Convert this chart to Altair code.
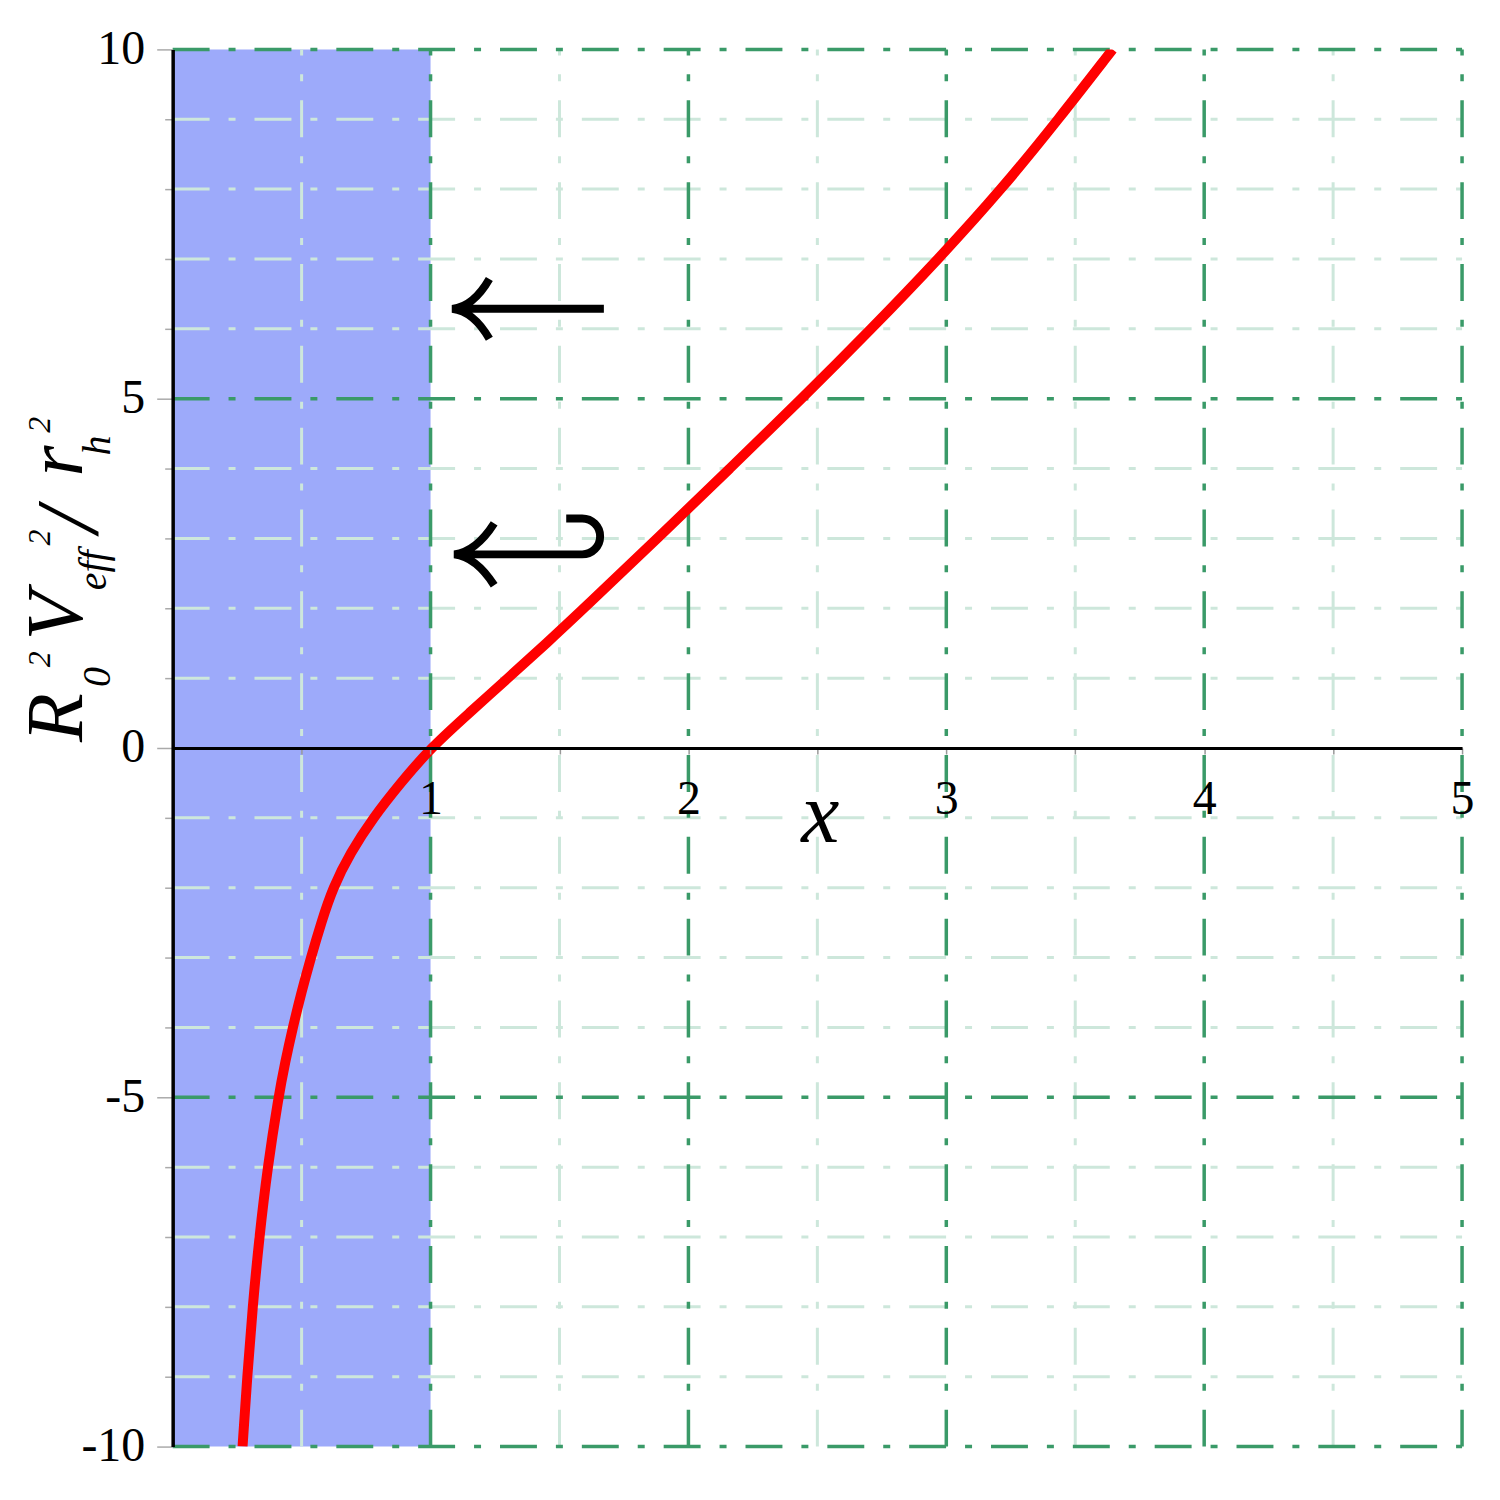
import altair as alt
import pandas as pd

# ---------------- data ----------------
curve_x = [0.271, 0.289, 0.310, 0.336, 0.368, 0.410, 0.436, 0.466, 0.499, 0.536,
           0.576, 0.621, 0.689, 0.777, 0.884, 1.000, 1.150, 1.300, 1.450, 1.595,
           1.880, 2.160, 2.440, 2.710, 2.970, 3.215, 3.435, 3.645]
curve_y = [-10, -9, -8, -7, -6, -5, -4.5, -4, -3.5, -3,
           -2.5, -2, -1.5, -1, -0.5, 0, 0.5, 1, 1.5, 2,
           3, 4, 5, 6, 7, 8, 9, 10]

x_domain = [0, 5]
y_domain = [-10, 10]
region_x = [0, 1]

x_ticks = [0, 0.5, 1, 1.5, 2, 2.5, 3, 3.5, 4, 4.5, 5]
y_ticks = list(range(-10, 11))
x_major = [1, 2, 3, 4, 5]
x_minor = [0.5, 1.5, 2.5, 3.5, 4.5]
y_major = [-10, -5, 5, 10]
y_minor = [-9, -8, -7, -6, -4, -3, -2, -1, 1, 2, 3, 4, 6, 7, 8, 9]

arrow_x = [1.378, 1.382]
arrow_y = [6.286, 2.829]

# ---------------- styles ----------------
SERIF = "Liberation Serif, Times New Roman, serif"
MAJOR = "#3a9a68"
MINOR = "#cde7db"
BLUE = "#9daafa"
DASH = [37, 19, 7, 19]

xs = alt.Scale(domain=x_domain, nice=False, zero=False)
ys = alt.Scale(domain=y_domain, nice=False, zero=False)

x_axis = alt.Axis(
    values=x_ticks, grid=False, title=None, offset=-700, zindex=1,
    domainColor="black", domainWidth=3,
    tickColor="#999999", tickWidth=1.5, tickSize=6,
    labelExpr="datum.value >= 1 && datum.value % 1 === 0 ? toString(datum.value) : ''",
    labelFont=SERIF, labelFontSize=48, labelColor="black", labelPadding=22,
    labelFlush=False, labelOverlap=False,
)
y_axis = alt.Axis(
    values=y_ticks, grid=False, title=None, zindex=1,
    domainColor="black", domainWidth=3.5,
    tickColor="#aaaaaa", tickWidth=1.5,
    tickSize={"condition": {"test": "datum.value % 5 === 0", "value": 16}, "value": 8},
    labelExpr="datum.value % 5 === 0 ? toString(datum.value) : ''",
    labelFont=SERIF, labelFontSize=48, labelColor="black", labelPadding=12,
    labelFlush=False, labelOverlap=False,
)

# ---------------- layers ----------------
region = alt.Chart(pd.DataFrame({"x0": [region_x[0]], "x1": [region_x[1]],
                                 "y0": [y_domain[0]], "y1": [y_domain[1]]})).mark_rect(
    color=BLUE, opacity=1
).encode(
    x=alt.X("x0:Q", scale=xs, axis=x_axis), x2="x1:Q",
    y=alt.Y("y0:Q", scale=ys, axis=y_axis), y2="y1:Q",
)


def vgrid(vals, color, width):
    df = pd.DataFrame({"x": vals, "y0": y_domain[0], "y1": y_domain[1]})
    return alt.Chart(df).mark_rule(color=color, strokeWidth=width, strokeDash=DASH).encode(
        x=alt.X("x:Q", scale=xs, axis=x_axis),
        y=alt.Y("y0:Q", scale=ys, axis=y_axis), y2="y1:Q",
    )


def hgrid(vals, color, width):
    df = pd.DataFrame({"y": vals, "x0": x_domain[0], "x1": x_domain[1]})
    return alt.Chart(df).mark_rule(color=color, strokeWidth=width, strokeDash=DASH).encode(
        y=alt.Y("y:Q", scale=ys, axis=y_axis),
        x=alt.X("x0:Q", scale=xs, axis=x_axis), x2="x1:Q",
    )


curve = alt.Chart(pd.DataFrame({"x": curve_x, "y": curve_y})).mark_line(
    color="#ff0000", strokeWidth=10, interpolate="basis", clip=True
).encode(
    x=alt.X("x:Q", scale=xs, axis=x_axis),
    y=alt.Y("y:Q", scale=ys, axis=y_axis),
    order="y:Q",
)

ARROW_PATH = ("M 1 0 L -0.96 0 "
              "M -0.51 -0.395 Q -0.72 -0.03 -1 0 Q -0.72 0.03 -0.51 0.395")
HOOK_PATH = ("M -0.96 0.053 L 0.70 0.053 A 0.237 0.237 0 0 0 0.70 -0.421 L 0.49 -0.421 "
             "M -0.46 -0.355 Q -0.70 0.02 -0.987 0.053 Q -0.70 0.086 -0.46 0.46")


def arrow(i, path):
    df = pd.DataFrame({"x": [arrow_x[i]], "y": [arrow_y[i]]})
    return alt.Chart(df).mark_point(
        shape=path, size=23104, filled=False, stroke="black", strokeWidth=8, opacity=1
    ).encode(
        x=alt.X("x:Q", scale=xs, axis=x_axis),
        y=alt.Y("y:Q", scale=ys, axis=y_axis),
    )


def label(text, px, py, size, italic=True, angle=270, align="left"):
    kw = dict(font=SERIF, fontSize=size, color="black", align=align,
              baseline="alphabetic", angle=angle)
    if italic:
        kw["fontStyle"] = "italic"
    return alt.Chart(pd.DataFrame({"t": [text]})).mark_text(**kw).encode(
        text="t:N", x=alt.value(px), y=alt.value(py)
    )


title_parts = [
    label("R", -91, 694, 80),
    label("0", -63, 639, 40),
    label("2", -123, 619, 32),
    label("V", -91, 592, 80),
    label("eff", -67, 542, 40),
    label("2", -123, 497, 32),
    label("/", -76, 484, 90),
    label("r", -91, 428, 80),
    label("h", -63, 407, 40),
    label("2", -123, 384, 32),
    label("x", 649, 794, 86, angle=0, align="center"),
]

chart = alt.layer(
    region,
    vgrid(x_minor, MINOR, 3), hgrid(y_minor, MINOR, 3),
    vgrid(x_major, MAJOR, 3.5), hgrid(y_major, MAJOR, 3.5),
    curve,
    arrow(0, ARROW_PATH), arrow(1, HOOK_PATH),
    *title_parts,
).properties(
    width=1292, height=1400,
    autosize=alt.AutoSizeParams(type="none"),
    padding={"left": 165, "top": 40, "right": 30, "bottom": 30},
    background="white",
).configure_view(stroke=None)

chart.save("out.html", embed_options={"renderer": "svg", "actions": False})
